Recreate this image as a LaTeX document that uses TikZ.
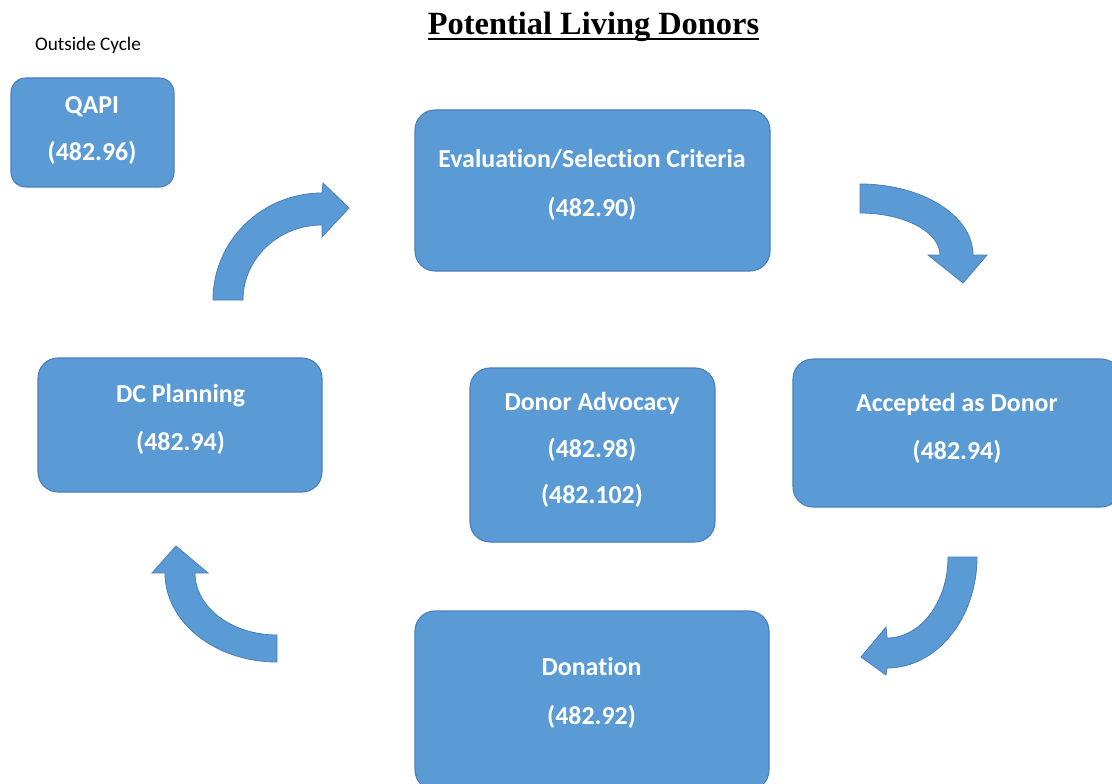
\documentclass[tikz,border=0pt]{standalone}
\usepackage{fontspec}
\setmainfont[Ligatures=CommonOff]{Carlito}
\newfontfamily\titlefont{Liberation Serif}
\definecolor{boxfill}{HTML}{5B9BD5}
\definecolor{boxborder}{HTML}{4A7EBB}
\begin{document}
\begin{tikzpicture}[x=0.75pt,y=-0.75pt,
  box/.style={draw=boxborder,line width=0.8pt,fill=boxfill,rounded corners=15pt,inner sep=0pt},
  lbl/.style={anchor=base,text=white,font=\fontsize{19.4}{23}\selectfont\bfseries,inner sep=0pt},
  arrowshape/.style={draw=boxborder,line width=0.6pt,fill=boxfill}]
\useasboundingbox (0,0) rectangle (1112,784);
% title
\node[anchor=base,inner sep=0pt,font=\titlefont\fontsize{24.3}{28}\selectfont\bfseries] (title) at (593.5,35) {Potential Living Donors};
\draw[line width=1.4pt] (title.base west) ++(0,4) -- ++(331,0);
\node[anchor=base,inner sep=0pt,font=\fontsize{14.4}{17}\selectfont] (outside) at (88,51) {Outside Cycle};
% boxes
\node[box,rounded corners=11pt,minimum width=122.25pt,minimum height=81.75pt] (qapi) at (92.5,132.5) {};
\node[box,minimum width=266.25pt,minimum height=120.75pt] (eval) at (592.5,190.5) {};
\node[box,minimum width=246pt,minimum height=111pt] (acc) at (957,433) {};
\node[box,minimum width=183.75pt,minimum height=130.5pt] (adv) at (592.5,455) {};
\node[box,minimum width=213pt,minimum height=100.5pt] (dc) at (180,425) {};
\node[box,minimum width=265.5pt,minimum height=134.25pt] (don) at (592,700.5) {};
% labels
\node[lbl] (qapi1) at (92,113.5) {QAPI};
\node[lbl] (qapi2) at (92,160.5) {(482.96)};
\node[lbl] (eval1) at (592,168) {Evaluation/Selection Criteria};
\node[lbl] (eval2) at (592,217) {(482.90)};
\node[lbl] (acc1) at (957,411) {Accepted as Donor};
\node[lbl] (acc2) at (957,459) {(482.94)};
\node[lbl] (adv1) at (592,410) {Donor Advocacy};
\node[lbl] (adv2) at (592,457) {(482.98)};
\node[lbl] (adv3) at (592,503) {(482.102)};
\node[lbl] (dc1) at (180.5,402) {DC Planning};
\node[lbl] (dc2) at (180.5,450) {(482.94)};
\node[lbl] (don1) at (591.5,675) {Donation};
\node[lbl] (don2) at (591.5,724) {(482.92)};
% curved arrows
\draw[arrowshape] (213,300) arc[start angle=180,end angle=270,x radius=109,y radius=107]
  -- (323,183) -- (349,208) -- (322,237) -- (322,225)
  arc[start angle=270,end angle=180,x radius=79,y radius=75] -- cycle;
\draw[arrowshape] (860,184) arc[start angle=270,end angle=360,x radius=113,y radius=71]
  -- (987,255) -- (963,283) -- (928,255) -- (940,255)
  arc[start angle=360,end angle=270,x radius=80,y radius=42] -- cycle;
\draw[arrowshape] (977,557) arc[start angle=0,end angle=90,x radius=90,y radius=111]
  -- (886,675) -- (861,657) -- (886,627) -- (887,638)
  arc[start angle=90,end angle=0,x radius=61,y radius=81] -- cycle;
\draw[arrowshape] (277,662) arc[start angle=90,end angle=180,x radius=112,y radius=89]
  -- (152,573) -- (176,546) -- (208,573) -- (195,573)
  arc[start angle=180,end angle=90,x radius=82,y radius=62] -- cycle;
\end{tikzpicture}
\end{document}
